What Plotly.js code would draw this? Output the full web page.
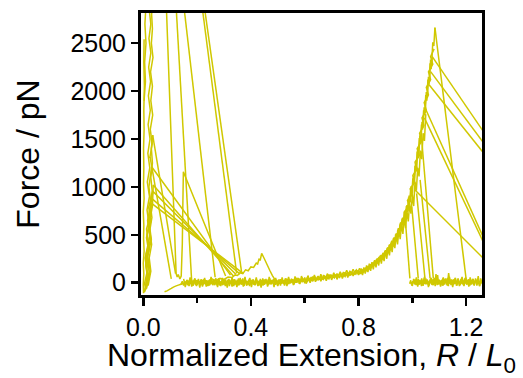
<!DOCTYPE html>
<html><head><meta charset="utf-8">
<script src="https://cdn.plot.ly/plotly-3.0.1.min.js"></script>
<style>html,body{margin:0;padding:0;background:#fff}</style>
</head><body><div id="chart" style="width:523px;height:378px"></div>
<script>
// ---------- data ----------
// baseline noise (evenly spaced in x)
const base1_x0 = 0.14, base1_dx = 0.005;
const base1_y = [-20,15,-30,10,-5,25,-35,5,20,-15,
 30,-25,0,40,-20,10,-40,15,-10,25,
 -30,5,35,-15,20,-25,10,-5,45,-30,
 15,-20,25,-35,0,30,-10,20,-40,10,
 35,-15,5,-25,50,-20,15,-30,25,-5,
 20,-35,10,30,-20,0,40,-25,15,-10,
 25,-30,35,-5,15,-25,45,-15,5,30,
 -20,20,-35,10,35,-10,25,-30,15,40,
 -15,20,5,35,-20,25,0,45,-10,30,
 10,40,-5,30,15,50,0,35,20,55,
 10,45,25,60,15,50,35,70,20,55,
 40,75,30,65,50,85,35,70,55,90,
 45,80,65,100,55,95,75,110,70,105,
 90,125,80,115,100,135,110];
const base2_x0 = 0.16, base2_dx = 0.005;
const base2_y = [5,-25,20,-10,30,-30,0,25,-20,15,
 -5,35,-25,10,-15,20,-35,30,-10,5,
 25,-20,10,-30,40,-5,15,-25,30,-15,
 0,25,-35,20,-10,35,-20,5,30,-25,
 15,-10,45,-30,20,0,-20,35,-15,10,
 30,-25,5,20,-30,40,-10,25,-20,15,
 0,35,-15,25,-5,40,-20,30,10,-10,
 35,5,25,-15,45,10,30,-5,40,15,
 30,0,50,20,35,10,55,25,40,15,
 60,30,45,20,65,40,55,30,70,45,
 60,35,80,50,65,45,85,60,75,55,
 90,65,80,60,100,75,90,70,110,85,
 95,80,120,90,105,85,130,100,115,95,140,110,125];
const base3_x0 = 0.15, base3_dx = 0.006;
const base3_y = [40,-45,30,-20,55,-40,10,45,-35,25,
 -50,35,-15,50,-40,20,-30,60,-25,15,
 45,-45,25,-35,50,-20,35,-50,40,-10,
 55,-35,20,-45,45,-15,30,-40,60,-30,
 10,50,-45,35,-25,55,-35,25,-50,45,
 -20,40,-40,60,-15,30,-45,50,-25,35,
 -30,55,-10,45,-35,60,-5,40,-25,65,
 0,50,-15,70,10,55,-10,75,15,60,
 20,80,25,65,30,90,35,75,45,95,
 50,85,55,105,60,95,70,115,75,110,
 85,130,90,120,100,140,105,135,115,150,120];
// rising (stretching) part
const rise1_x0 = 0.80, rise1_dx = 0.004;
const rise1_y = [85,125,95,135,100,150,115,160,125,175,
 140,195,155,210,170,230,185,250,205,270,
 225,290,240,315,260,340,285,370,315,400,
 345,440,375,475,410,515,450,570,500,625,
 555,680,610,750,665,810,750,910,840,1010,
 930,1120,1050,1250,1190,1400,1320,1540,1470,1680,
 1620,1830,1770,1990,1930,2150,2100,2330,2280,2510,
 2470,2662];
const rise2_x0 = 0.802, rise2_dx = 0.004;
const rise2_y = [120,90,130,105,145,110,155,120,170,135,
 185,150,200,165,220,180,240,200,260,220,
 285,235,305,255,330,280,360,305,395,335,
 430,370,465,400,505,440,555,490,610,540,
 670,600,735,660,800,740,890,820,985,920,
 1090,1030,1220,1160,1370,1300,1510,1450,1650,1600,
 1800,1750,1960,1900,2120,2060,2290,2230,2359];
const rise3_x0 = 0.81, rise3_dx = 0.005;
const rise3_y = [150,80,160,95,180,110,200,125,215,140,
 235,160,255,180,280,200,305,225,335,250,
 370,285,410,320,455,360,500,400,550,455,
 610,510,680,570,750,640,820,720,920,800,
 1050,960,1200,1110,1380,1290,1560,1480,1760];
const rise4_x = [0.941,0.960,0.956,0.976,0.970,0.989,0.982,1.000,0.992,1.009,1.002,1.018,1.010,1.026,
 1.018,1.035,1.027,1.043,1.036,1.052,1.044,1.060,1.052,1.068,1.060,1.076,1.068,1.081];
const rise4_y = [500,560,620,680,740,800,860,920,980,1050,1120,1190,1260,1330,
 1400,1480,1560,1640,1720,1800,1880,1960,2040,2120,2200,2280,2360,2440];
// baseline after rupture
const post1_x0 = 0.99, post1_dx = 0.004;
const post1_y = [-10,25,-30,15,-5,35,-25,10,40,-20,
 20,-35,5,30,-15,45,-10,20,-30,15,
 -5,35,-25,50,-15,10,80,-20,25,-10,
 30,-30,15,40,-5,20,-35,60,0,25,
 -20,35,-10,15,-30,45,5,-25,30,-15,
 20,-5,55,-20,10,35,-30,25,-10,40,
 -25,15,30,-15,20,-35,45,0,25];
const post2_x0 = 1.02, post2_dx = 0.004;
const post2_y = [15,-20,30,-10,20,-30,45,5,-15,25,
 -25,10,35,-20,5,40,-10,90,-25,15,
 30,-15,20,-30,35,0,25,-20,50,-10,
 15,-25,30,5,-15,40,-30,20,10,-20,
 35,-5,25,-35,15,45,-15,20,-25,30,
 0,40,-20,15,25,-30,35,5,-10,30,-15];
const post3_x0 = 1.00, post3_dx = 0.005;
const post3_y = [-35,40,-20,55,-40,25,-10,45,-30,60,
 -15,35,-45,20,50,-25,40,-35,65,-10,
 30,-40,15,55,-20,45,-30,100,-5,35,
 -45,25,50,-15,40,-35,20,60,-25,45,
 -10,30,-40,55,-20,35,-30,45,-15,70,
 -35,25,-5];
// straight rupture / relaxation segments: start -> end
const segStartX = [1.084,1.074,1.068,1.063,1.051,1.045,1.010,0.973,0.998,1.016,1.029,1.035,
                   0.1156,0.138,0.204,0.211,0.035,0.025];
const segStartY = [2662,2359,2203,2064,1803,1720,968,690,794,933,1073,1490,
                   3200,3200,3200,3200,1541,1316];
const segEndX   = [1.20,1.30,1.30,1.30,1.30,1.30,1.30,0.991,1.022,1.047,1.066,1.078,
                   0.18,0.267,0.347,0.366,0.12,0.104];
const segEndY   = [40,1431,1327,1231,248,212,154,45,45,45,45,45,
                   10,57,98,98,95,40];
// multi-point traces near the origin
const chainL1_x = [0.0816,0.122,0.126,0.130,0.136,0.141,0.145,0.147,0.149,0.306];
const chainL1_y = [3200,98,60,85,40,70,400,800,1159,70];
const diag1_x = [0.006,0.018,0.010,0.024,0.016,0.028,0.021,0.031,0.324];
const diag1_y = [-90,140,300,480,650,820,1000,1211,80];
const diag2_x = [0.012,0.026,0.016,0.030,0.022,0.034,0.037,0.335];
const diag2_y = [-60,130,280,450,620,800,1020,70];
const diag3_x = [0.004,0.015,0.009,0.022,0.014,0.028,0.020,0.037,0.345];
const diag3_y = [-100,60,200,350,500,640,790,950,85];
const diag4_x = [0.010,0.022,0.014,0.027,0.019,0.031,0.360];
const diag4_y = [-70,120,290,460,640,881,90];
const diag5_x = [0.002,0.014,0.007,0.020,0.012,0.026,0.031,0.372];
const diag5_y = [-40,110,260,400,560,700,829,95];
const orig1_x = [0.001,0.000,0.002,0.000,0.003,0.001,0.002,0.000,0.003,0.001,0.002,0.001,0.003,0.002,0.004,0.002,0.003];
const orig1_y = [-110,-20,90,200,330,460,600,740,880,1030,1200,1400,1600,1800,2060,2300,2540];
const orig2_x = [0.008,0.016,0.010,0.020,0.012,0.021,0.014,0.023,0.015,0.024,0.017,0.025,0.018,0.026,0.019,0.027,0.020,0.028,0.021,0.028,0.022,0.029,0.020];
const orig2_y = [-70,60,190,330,470,610,760,900,1050,1200,1350,1500,1650,1800,1950,2100,2250,2400,2550,2700,2850,3000,3150];
const orig3_x = [0.018,0.028,0.022,0.031,0.024,0.032,0.026,0.033,0.028,0.034,0.030,0.035];
const orig3_y = [-30,120,260,400,540,680,820,960,1100,1250,1400,1541];
const orig4_x = [0.024,0.033,0.026,0.035,0.028,0.034,0.027,0.036,0.030,0.034,0.031,0.035];
const orig4_y = [1300,1450,1600,1750,1900,2050,2200,2350,2500,2650,2800,3000];
const orig5_x = [0.003,0.008,0.005,0.010,0.006,0.011];
const orig5_y = [1900,2100,2300,2500,2700,2950];
const bump_x = [0.079,0.088,0.096,0.104,0.112,0.120,0.130,0.140,0.150,0.165,0.18,0.195,0.21,0.225,0.24,0.255,0.27,0.285,0.30,0.315,0.33,0.34,0.35,0.36,0.37,0.38,0.39,0.40,0.41,0.42,0.425,0.43,0.435,0.44,0.45,0.46,0.47,0.48,0.49];
const bump_y = [-94,-85,-72,-60,-45,-35,-25,-15,-5,15,-10,25,5,30,10,40,20,45,35,60,55,80,75,105,95,135,125,165,160,205,195,245,240,307,250,190,130,75,30];

// tick labels
const xTickVals = [0, 0.4, 0.8, 1.2];
const xTickText = ['0.0', '0.4', '0.8', '1.2'];
const xMinorVals = [0.2, 0.6, 1.0];
const yTickVals = [0, 500, 1000, 1500, 2000, 2500];
const yTickText = ['0', '500', '1000', '1500', '2000', '2500'];

// ---------- build traces ----------
const COLOR = '#d0c800';
const LW = 1.5;
const traces = [];
function evenTrace(x0, dx, y) {
  traces.push({type:'scatter', mode:'lines', x0:x0, dx:dx, y:y,
    line:{color:COLOR, width:LW, simplify:false}, hoverinfo:'skip'});
}
function xyTrace(x, y) {
  traces.push({type:'scatter', mode:'lines', x:x, y:y,
    line:{color:COLOR, width:LW, simplify:false}, hoverinfo:'skip'});
}
evenTrace(base1_x0, base1_dx, base1_y);
evenTrace(base2_x0, base2_dx, base2_y);
evenTrace(base3_x0, base3_dx, base3_y);
evenTrace(rise1_x0, rise1_dx, rise1_y);
evenTrace(rise2_x0, rise2_dx, rise2_y);
evenTrace(rise3_x0, rise3_dx, rise3_y);
xyTrace(rise4_x, rise4_y);
evenTrace(post1_x0, post1_dx, post1_y);
evenTrace(post2_x0, post2_dx, post2_y);
evenTrace(post3_x0, post3_dx, post3_y);
for (let i = 0; i < segStartX.length; i++) {
  xyTrace([segStartX[i], segEndX[i]], [segStartY[i], segEndY[i]]);
}
xyTrace(chainL1_x, chainL1_y);
xyTrace(diag1_x, diag1_y);
xyTrace(diag2_x, diag2_y);
xyTrace(diag3_x, diag3_y);
xyTrace(diag4_x, diag4_y);
xyTrace(diag5_x, diag5_y);
xyTrace(orig1_x, orig1_y);
xyTrace(orig2_x, orig2_y);
xyTrace(orig3_x, orig3_y);
xyTrace(orig4_x, orig4_y);
xyTrace(orig5_x, orig5_y);
xyTrace(bump_x, bump_y);

const FONT = 'Arial, "Liberation Sans", sans-serif';
const layout = {
  width: 523, height: 378,
  margin: {l: 141, r: 41, t: 13, b: 83, pad: 0},
  paper_bgcolor: '#fff', plot_bgcolor: '#fff',
  showlegend: false,
  font: {family: FONT, color: '#000'},
  xaxis: {
    range: [-0.0085, 1.259],
    tickmode: 'array', tickvals: xTickVals, ticktext: xTickText,
    ticks: 'outside', ticklen: 8, tickwidth: 2.5, tickcolor: '#000',
    minor: {tickmode: 'array', tickvals: xMinorVals, ticks: 'outside', ticklen: 5, tickwidth: 2.5, tickcolor: '#000'},
    showline: true, mirror: true, linewidth: 3, linecolor: '#000',
    showgrid: false, zeroline: false,
    tickfont: {size: 25, family: FONT, color: '#000'},
    title: {text: 'Normalized Extension, <i>R</i> / <i>L</i><sub>0</sub>', font: {size: 32, family: FONT, color: '#000'}, standoff: 6},
    automargin: false
  },
  yaxis: {
    range: [-128, 2815],
    tickmode: 'array', tickvals: yTickVals, ticktext: yTickText,
    ticks: 'outside', ticklen: 7, tickwidth: 2.5, tickcolor: '#000',
    showline: true, mirror: true, linewidth: 3, linecolor: '#000',
    showgrid: false, zeroline: false,
    tickfont: {size: 25, family: FONT, color: '#000'},
    title: {text: 'Force / pN', font: {size: 32, family: FONT, color: '#000'}, standoff: 22},
    automargin: false
  }
};
Plotly.newPlot('chart', traces, layout, {staticPlot: true, displayModeBar: false});
</script></body></html>
